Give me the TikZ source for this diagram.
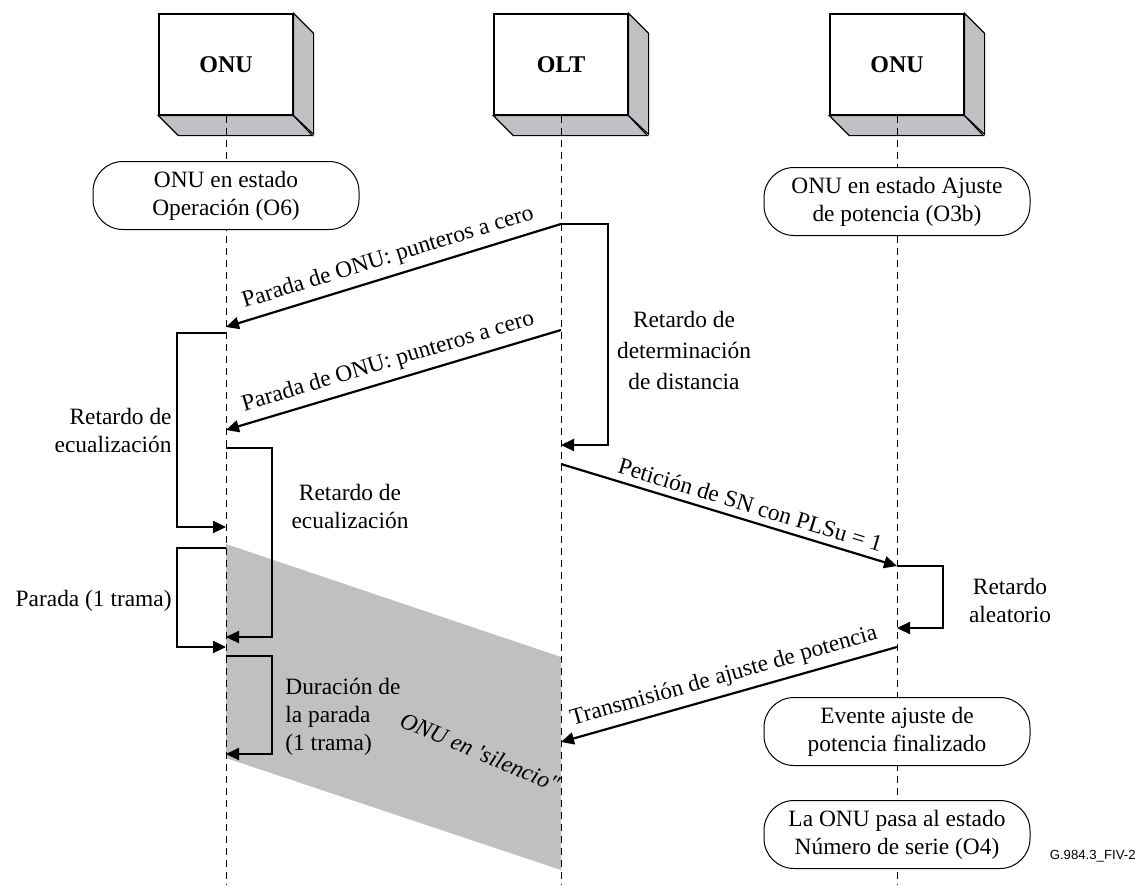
\documentclass[tikz,border=0pt]{standalone}
\usepackage{fontspec}
\setmainfont{Liberation Serif}
\newfontfamily\figfont{Liberation Sans}
\usetikzlibrary{arrows.meta,positioning}

\definecolor{cara}{RGB}{192,193,197}
\definecolor{sombra}{RGB}{192,192,192}

\tikzset{
  unidad/.style={draw, fill=white, line width=0.6pt, minimum width=67pt, minimum height=50.5pt, inner sep=0pt, font=\bfseries\fontsize{12}{14}\selectfont},
  estado/.style={draw, fill=white, rounded corners=15pt, line width=0.5pt, minimum width=133pt, minimum height=34pt, align=center, inner sep=2pt},
  vida/.style={dash pattern=on 3.5pt off 2.5pt, line width=0.5pt},
  msg/.style={line width=1.1pt, -{Triangle[length=6.5pt,width=6pt]}},
  corchete/.style={line width=1.1pt, -{Triangle[length=6.5pt,width=6pt]}},
  nota/.style={inner sep=1pt},
}

\begin{document}
\begin{tikzpicture}[x=0.5pt, y=-0.5pt, font=\fontsize{11.7}{14}\selectfont]
    \useasboundingbox (0,0) rectangle (1141,885);

    % ONU en silencio (zona gris)
    \fill[sombra] (226,544) -- (561,657) -- (561,870) -- (226,758) -- cycle;

    % Unidades y lineas de vida
    \foreach \n/\x/\t in {onuA/226/ONU, olt/561/OLT, onuB/897/ONU} {
        \node[unidad] (\n) at (\x,64.5) {\t};
        \filldraw[fill=cara, line width=0.6pt] (\n.south west) -- ++(20,20) -- ++(134,0) -- (\n.south east) -- cycle;
        \filldraw[fill=cara, line width=0.6pt] (\n.north east) -- ++(20,20) -- ++(0,101) -- (\n.south east) -- cycle;
        \draw[vida] (\n.south) -- (\x,885);
    }

    % Estados
    \node[estado] (estA) at (226,195.5) {ONU en estado\\Operación (O6)};
    \node[estado] (estB) at (897,201.5) {ONU en estado Ajuste\\de potencia (O3b)};
    \node[estado] (fin) at (897,731.5) {Evente ajuste de\\potencia finalizado};
    \node[estado] (serie) at (897,834.5) {La ONU pasa al estado\\Número de serie (O4)};

    % Puntos de los mensajes
    \coordinate (m1s) at (561,224);
    \coordinate (m1e) at (226,327);
    \coordinate (m2s) at (561,330);
    \coordinate (m2e) at (226,430);
    \coordinate (m3s) at (561,464);
    \coordinate (m3e) at (897,566);
    \coordinate (m4s) at (897,647);
    \coordinate (m4e) at (561,742);

    % Mensajes
    \draw[msg] (m1s) -- node[midway, above, sloped] (lm1) {Parada de ONU: punteros a cero} (m1e);
    \draw[msg] (m2s) -- node[midway, above, sloped] (lm2) {Parada de ONU: punteros a cero} (m2e);
    \draw[msg] (m3s) -- node[pos=0.55, above, sloped] (lm3) {Petición de SN con PLSu = 1} (m3e);
    \draw[msg] (m4s) -- node[midway, above, sloped] (lm4) {Transmisión de ajuste de potencia} (m4e);

    % Retardos
    \coordinate (d1s) at (561,224);  \coordinate (d1e) at (561,445);
    \coordinate (d2s) at (226,333);  \coordinate (d2e) at (226,527);
    \coordinate (d3s) at (226,448);  \coordinate (d3e) at (226,637);
    \coordinate (d4s) at (226,548);  \coordinate (d4e) at (226,647);
    \coordinate (d5s) at (226,656);  \coordinate (d5e) at (226,754);
    \coordinate (d6s) at (897,566);  \coordinate (d6e) at (897,628);
    \draw[corchete] (d1s) -- ++(47,0) |- (d1e);
    \draw[corchete] (d2s) -- ++(-49,0) |- (d2e);
    \draw[corchete] (d3s) -- ++(46,0) |- (d3e);
    \draw[corchete] (d4s) -- ++(-49,0) |- (d4e);
    \draw[corchete] (d5s) -- ++(46,0) |- (d5e);
    \draw[corchete] (d6s) -- ++(46,0) |- (d6e);

    % Textos de los retardos
    \node[nota, align=center, font=\fontsize{11.7}{15.5}\selectfont] (rd1) at (684,350) {Retardo de\\determinación\\de distancia};
    \node[nota, align=right, anchor=east] (rd2) at (174,430) {Retardo de\\ecualización};
    \node[nota, align=center] (rd3) at (350,506) {Retardo de\\ecualización};
    \node[nota, anchor=east] (rd4) at (174,601) {Parada (1 trama)};
    \node[nota, align=left, anchor=west] (rd5) at (283,717) {Duración de\\la parada\\(1 trama)};
    \node[nota, align=center] (rd6) at (1010,600) {Retardo\\aleatorio};

    \node[rotate=-23, inner sep=0pt, font=\itshape\fontsize{11.7}{14}\selectfont] (silencio) at (480,752) {ONU en \textquotesingle silencio\textquotedbl};

    % Referencia de la figura
    \node[font=\figfont\fontsize{6.6}{8}\selectfont, anchor=east, inner sep=0pt] (ref) at (1136,856) {G.984.3\_FIV-2};
\end{tikzpicture}
\end{document}
